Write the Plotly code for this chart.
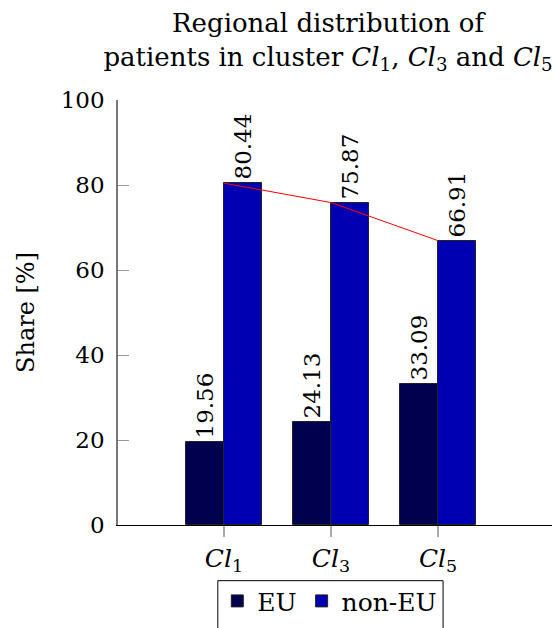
import plotly.graph_objects as go

categories = ["<i>Cl</i><sub>1</sub>", "<i>Cl</i><sub>3</sub>", "<i>Cl</i><sub>5</sub>"]
eu = [19.56, 24.13, 33.09]
non_eu = [80.44, 75.87, 66.91]
y_ticks = [0, 20, 40, 60, 80, 100]

FONT = "DejaVu Serif"
NUM = dict(family=FONT, size=23, color="black")
TXT = dict(family=FONT, size=25, color="black")
x = [0, 1, 2]

fig = go.Figure()
fig.add_trace(go.Bar(
    x=x, y=eu, name="EU", width=0.355, offset=-0.355,
    marker=dict(color="#00004f", line=dict(color="#222222", width=1)),
    text=[f"{v:.2f}" for v in eu], textposition="outside", textangle=-90,
    constraintext="none",
    textfont=NUM, cliponaxis=False,
))
fig.add_trace(go.Bar(
    x=x, y=non_eu, name="non-EU", width=0.355, offset=0,
    marker=dict(color="#0000b3", line=dict(color="#222222", width=1)),
    text=[f"{v:.2f}" for v in non_eu], textposition="outside", textangle=-90,
    constraintext="none",
    textfont=NUM, cliponaxis=False,
))
fig.add_trace(go.Scatter(
    x=x, y=non_eu, mode="lines", line=dict(color="red", width=1),
    showlegend=False, hoverinfo="skip",
))

fig.add_shape(type="rect", xref="paper", yref="paper",
              x0=0.230, x1=0.749, y0=-0.131, y1=-0.30,
              line=dict(color="black", width=1), fillcolor="rgba(0,0,0,0)")

fig.update_layout(
    width=556, height=628,
    margin=dict(l=118, r=4, t=100, b=101),
    plot_bgcolor="white", paper_bgcolor="white",
    font=TXT,
    title=dict(
        text="Regional distribution of<br>patients in cluster <i>Cl</i><sub>1</sub>, <i>Cl</i><sub>3</sub> and <i>Cl</i><sub>5</sub>",
        x=0.59, xanchor="center", y=0.949, yanchor="top",
        font=dict(family=FONT, size=26, color="black"),
    ),
    bargap=0, barmode="overlay",
    xaxis=dict(
        range=[-0.99, 3.065], tickvals=x, ticktext=categories,
        showline=True, linecolor="black", linewidth=1,
        ticks="outside", ticklen=11, tickcolor="#aaaaaa", tickwidth=1.5,
        showgrid=False, zeroline=False, tickfont=TXT,
    ),
    yaxis=dict(
        range=[0, 100], tickvals=y_ticks,
        showline=True, linecolor="#777777", linewidth=1.5,
        ticks="inside", ticklen=11, tickcolor="#999999", tickwidth=1,
        ticklabelstandoff=7,
        showgrid=False, zeroline=False, tickfont=NUM,
        title=dict(text="Share [%]", font=dict(family=FONT, size=24, color="black"), standoff=19),
    ),
    legend=dict(
        orientation="h", x=0.488, xanchor="center", y=-0.125, yanchor="top",
        borderwidth=0, font=TXT, bgcolor="rgba(0,0,0,0)",
        tracegroupgap=0,
    ),
)

fig.write_html("out.html")
